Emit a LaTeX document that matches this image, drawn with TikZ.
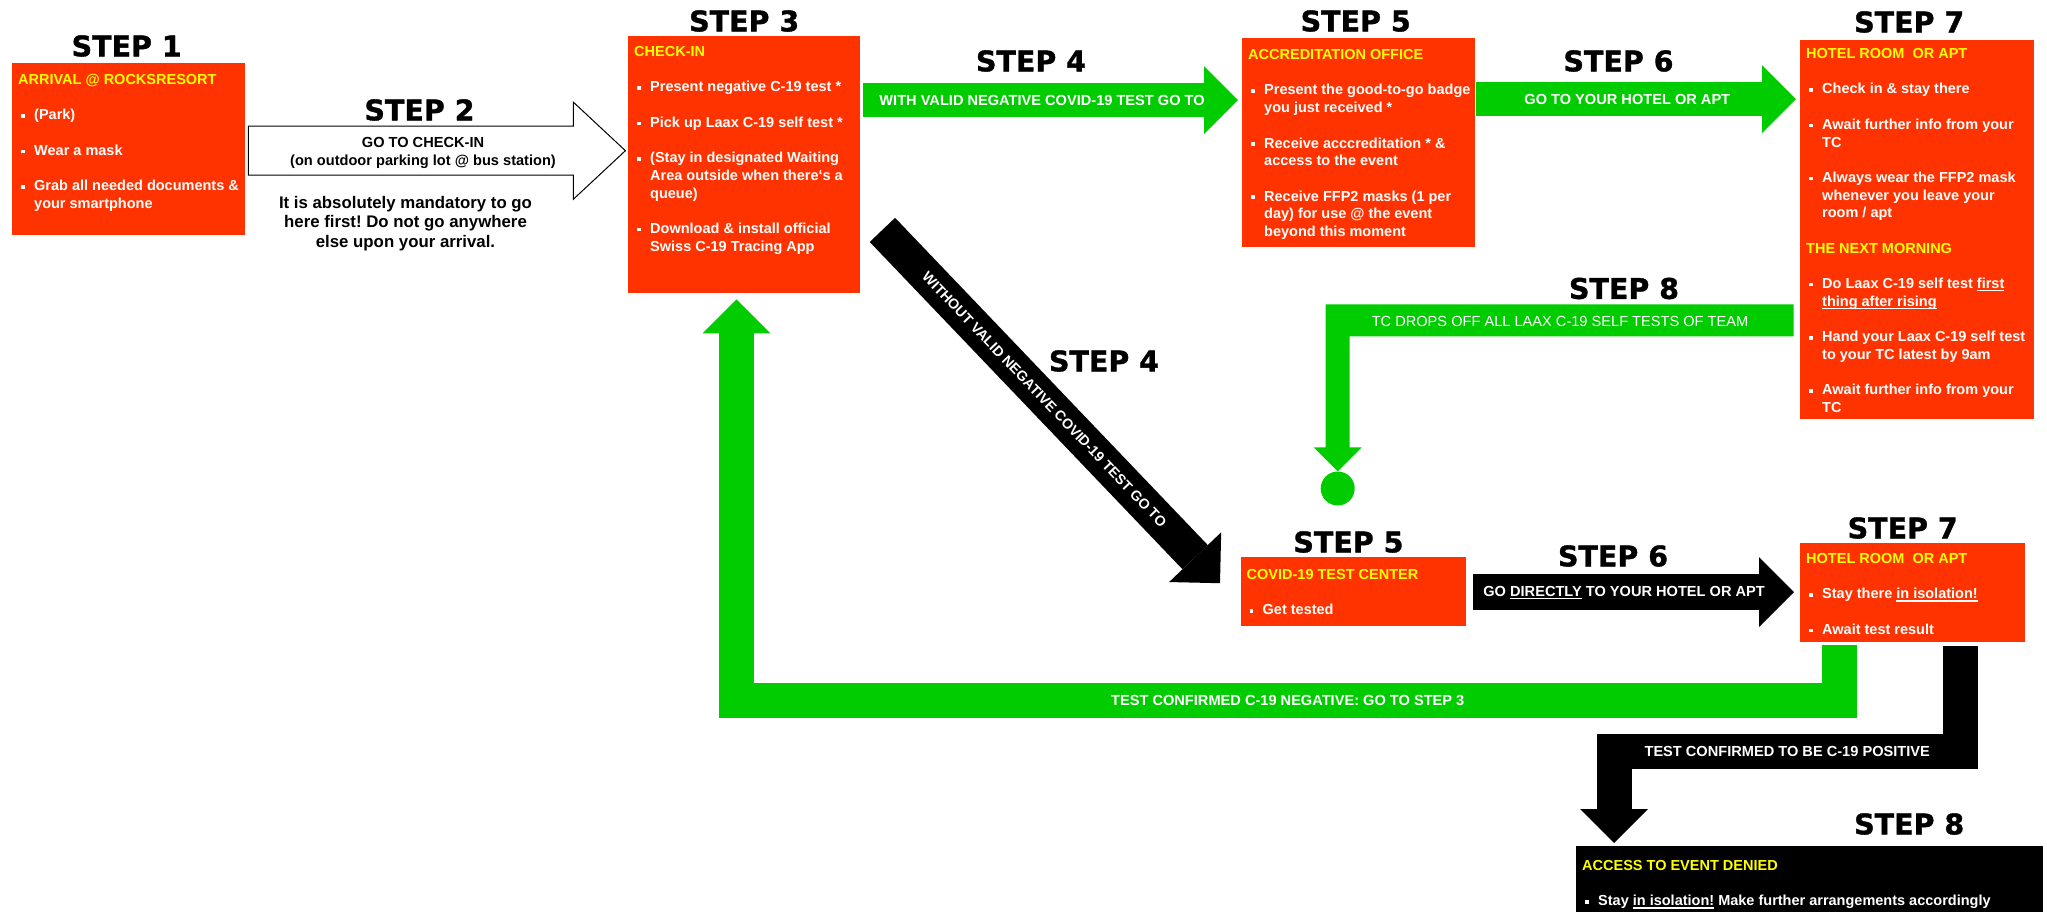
\documentclass[tikz,border=0pt]{standalone}
\usepackage{fontspec}
\setmainfont{Liberation Sans}
\newfontfamily\stepfamily{DejaVu Sans}[BoldFeatures={FakeBold=1.2}]
\usetikzlibrary{arrows.meta, positioning, calc}
\definecolor{colBox}{RGB}{255,51,0}
\definecolor{colFlow}{RGB}{0,204,0}
\definecolor{colHead}{RGB}{255,255,0}
\tikzset{
    infobox/.style={fill=colBox, text=white, inner sep=0pt, anchor=north west},
    steplbl/.style={inner sep=0pt, font=\stepfamily\bfseries\fontsize{28.5pt}{30pt}\selectfont},
    flowlbl/.style={inner sep=0pt, text=white, font=\bfseries\fontsize{14.6pt}{17pt}\selectfont},
    gflow/.style={draw=colFlow, line width=34pt, -{Triangle[length=34pt, width=68pt, line width=0pt]}},
    kflow/.style={draw=black, line width=35pt, -{Triangle[length=35pt, width=70pt, line width=0pt]}}
}
\frenchspacing
\newcommand{\sq}{\raisebox{2.2pt}{\rule{3.5pt}{3.5pt}}}
\newcommand{\undl}[1]{\setbox0=\hbox{#1}\rlap{\rule[-2.6pt]{\wd0}{1.1pt}}\box0\relax}
\newcommand{\itm}[1]{\par\vskip17.7pt\hangindent=16pt\hangafter=1\hspace*{3pt}\makebox[13pt][l]{\sq}#1}
\newcommand{\subttl}[1]{\par\vskip17.7pt\textcolor{colHead}{#1}}
\newcommand{\panel}[5][9pt]{\begin{minipage}[t][#3][t]{#2}%
    \fontsize{14.5pt}{17.7pt}\selectfont\bfseries
    \leftskip=6pt\rightskip=-40pt plus 1fil
    \vspace*{#1}\strut\textcolor{colHead}{#4}#5\par\end{minipage}}

\begin{document}
\begin{tikzpicture}[x=1pt, y=-1pt]
    \useasboundingbox (0,0) rectangle (2047,912);

    % boxes
    \node[infobox] (arrive) at (12,63) {\panel[9pt]{233pt}{172pt}{ARRIVAL @ ROCKSRESORT}{%
        \itm{(Park)}\itm{Wear a mask}\itm{Grab all needed documents \&\newline your smartphone}}};
    \node[infobox] (chk) at (628,36) {\panel[8pt]{232pt}{257pt}{CHECK-IN}{%
        \itm{Present negative C-19 test *}\itm{Pick up Laax C-19 self test *}%
        \itm{(Stay in designated Waiting\newline Area outside when there‘s a\newline queue)}%
        \itm{Download \& install official\newline Swiss C-19 Tracing App}}};
    \node[infobox] (accr) at (1242,38) {\panel[9pt]{233pt}{209pt}{ACCREDITATION OFFICE}{%
        \itm{Present the good-to-go badge\newline you just received *}%
        \itm{Receive acccreditation * \&\newline access to the event}%
        \itm{Receive FFP2 masks (1 per\newline day) for use @ the event\newline beyond this moment}}};
    \node[infobox] (hotel) at (1800,40) {\panel[6pt]{234pt}{379pt}{HOTEL ROOM\ \ OR APT}{%
        \itm{Check in \& stay there}\itm{Await further info from your\newline TC}%
        \itm{Always wear the FFP2 mask\newline whenever you leave your\newline room / apt}%
        \subttl{THE NEXT MORNING}%
        \itm{Do Laax C-19 self test \undl{first}\newline\undl{thing after rising}}%
        \itm{Hand your Laax C-19 self test\newline to your TC latest by 9am}%
        \itm{Await further info from your\newline TC}}};
    \node[infobox] (testc) at (1240.5,557) {\panel[10pt]{225.5pt}{69pt}{COVID-19 TEST CENTER}{%
        \itm{Get tested}}};
    \node[infobox] (iso) at (1800,543) {\panel[8pt]{225pt}{99pt}{HOTEL ROOM\ \ OR APT}{%
        \itm{Stay there \undl{in isolation!}}\itm{Await test result}}};
    \node[infobox, fill=black] (denied) at (1576,846) {\panel[12pt]{467pt}{66pt}{ACCESS TO EVENT DENIED}{%
        \itm{Stay \undl{in isolation!} Make further arrangements accordingly}}};

    % step titles
    \node[steplbl, above=6pt of arrive, xshift=-2pt] (s1) {STEP 1};
    \node[steplbl, above=4pt of chk] (s3) {STEP 3};
    \node[steplbl, above=6pt of accr, xshift=-3pt] (s5a) {STEP 5};
    \node[steplbl, above=7pt of hotel, xshift=-8pt] (s7a) {STEP 7};
    \node[steplbl, above=4pt of testc, xshift=-5pt] (s5b) {STEP 5};
    \node[steplbl, above=4pt of iso, xshift=-10pt] (s7b) {STEP 7};
    \node[steplbl, above=11pt of denied, xshift=99.5pt] (s8b) {STEP 8};
    \node[steplbl] (s2) at (419.5,110) {STEP 2};
    \node[steplbl] (s4a) at (1031,61) {STEP 4};
    \node[steplbl] (s6a) at (1618.5,61) {STEP 6};
    \node[steplbl] (s8a) at (1624,288.5) {STEP 8};
    \node[steplbl] (s4b) at (1104,361) {STEP 4};
    \node[steplbl] (s6b) at (1613,556) {STEP 6};

    % step 2: outlined arrow
    \coordinate (s2tail) at ($(arrive.east)+(3,1.5)$);
    \draw[black, line width=1pt, fill=white] ($(s2tail)+(0,-24.5)$) -- ++(325,0) -- ++(0,-24)
        -- ++(52,48.5) -- ++(-52,48.5) -- ++(0,-24) -- ++(-325,0) -- cycle;
    \node[inner sep=0pt, align=center, anchor=north, font=\bfseries\fontsize{14.6pt}{18pt}\selectfont]
        (lab2) at (423,137.5) {GO TO CHECK-IN\\(on outdoor parking lot @ bus station)};
    \node[inner sep=0pt, align=center, anchor=north, font=\bfseries\fontsize{16.8pt}{19.5pt}\selectfont]
        (must) at (405.5,196) {It is absolutely mandatory to go\\here first! Do not go anywhere\\else upon your arrival.};

    % flows
    \draw[gflow] ($(chk.east)+(3,-64.5)$) -- node[flowlbl, pos=0.477] (lab4a)
        {WITH VALID NEGATIVE COVID-19 TEST GO TO} ($(accr.west)+(-4,-42.5)$);
    \draw[gflow] ($(accr.east)+(1,-43.5)$) -- node[flowlbl, pos=0.472] (lab6a)
        {GO TO YOUR HOTEL OR APT} ($(hotel.west)+(-4,-130.5)$);
    \draw[kflow, -{Triangle[length=36pt, width=72pt, line width=0pt]}] ($(chk.south east)+(22,-63.5)$)
        -- node[flowlbl, sloped, pos=0.48, font=\bfseries\fontsize{14.2pt}{17pt}\selectfont] (lab4b)
        {WITHOUT VALID NEGATIVE COVID-19 TEST GO TO} ($(testc.west)+(-20.5,-8.5)$);
    \draw[kflow, line width=36pt] ($(testc.east)+(7,0.5)$) -- node[flowlbl, pos=0.47] (lab6b)
        {GO \undl{DIRECTLY} TO YOUR HOTEL OR APT} ($(iso.west)+(-6,-0.5)$);
    \draw[gflow, line width=35pt] ($(iso.south west)+(39,3)$) -- ++(0,55) -| node[flowlbl, pos=0.25] (lab3b)
        {TEST CONFIRMED C-19 NEGATIVE: GO TO STEP 3} ($(chk.south west)+(108.5,6)$);
    \draw[kflow, -{Triangle[length=34pt, width=68pt, line width=0pt]}] ($(iso.south east)+(-65,4)$)
        -- ++(0,105) -| node[flowlbl, pos=0.25] (lab7c)
        {TEST CONFIRMED TO BE C-19 POSITIVE} ($(denied.north west)+(38,-3)$);

    % step 8: drop-off
    \node[circle, fill=colFlow, minimum size=34pt, inner sep=0pt] (dot) at (1337.7,488.5) {};
    \fill[colFlow] (dot.north) -- ++(-24,-24) -- ++(12,0) -- ++(0,-143) -- ++(468,0) -- ++(0,32)
        -- ++(-444,0) -- ++(0,111) -- ++(12,0) -- cycle;
    \node[flowlbl, font=\fontsize{14.6pt}{17pt}\selectfont] (lab8a) at (1560,321)
        {TC DROPS OFF ALL LAAX C-19 SELF TESTS OF TEAM};

\end{tikzpicture}
\end{document}
